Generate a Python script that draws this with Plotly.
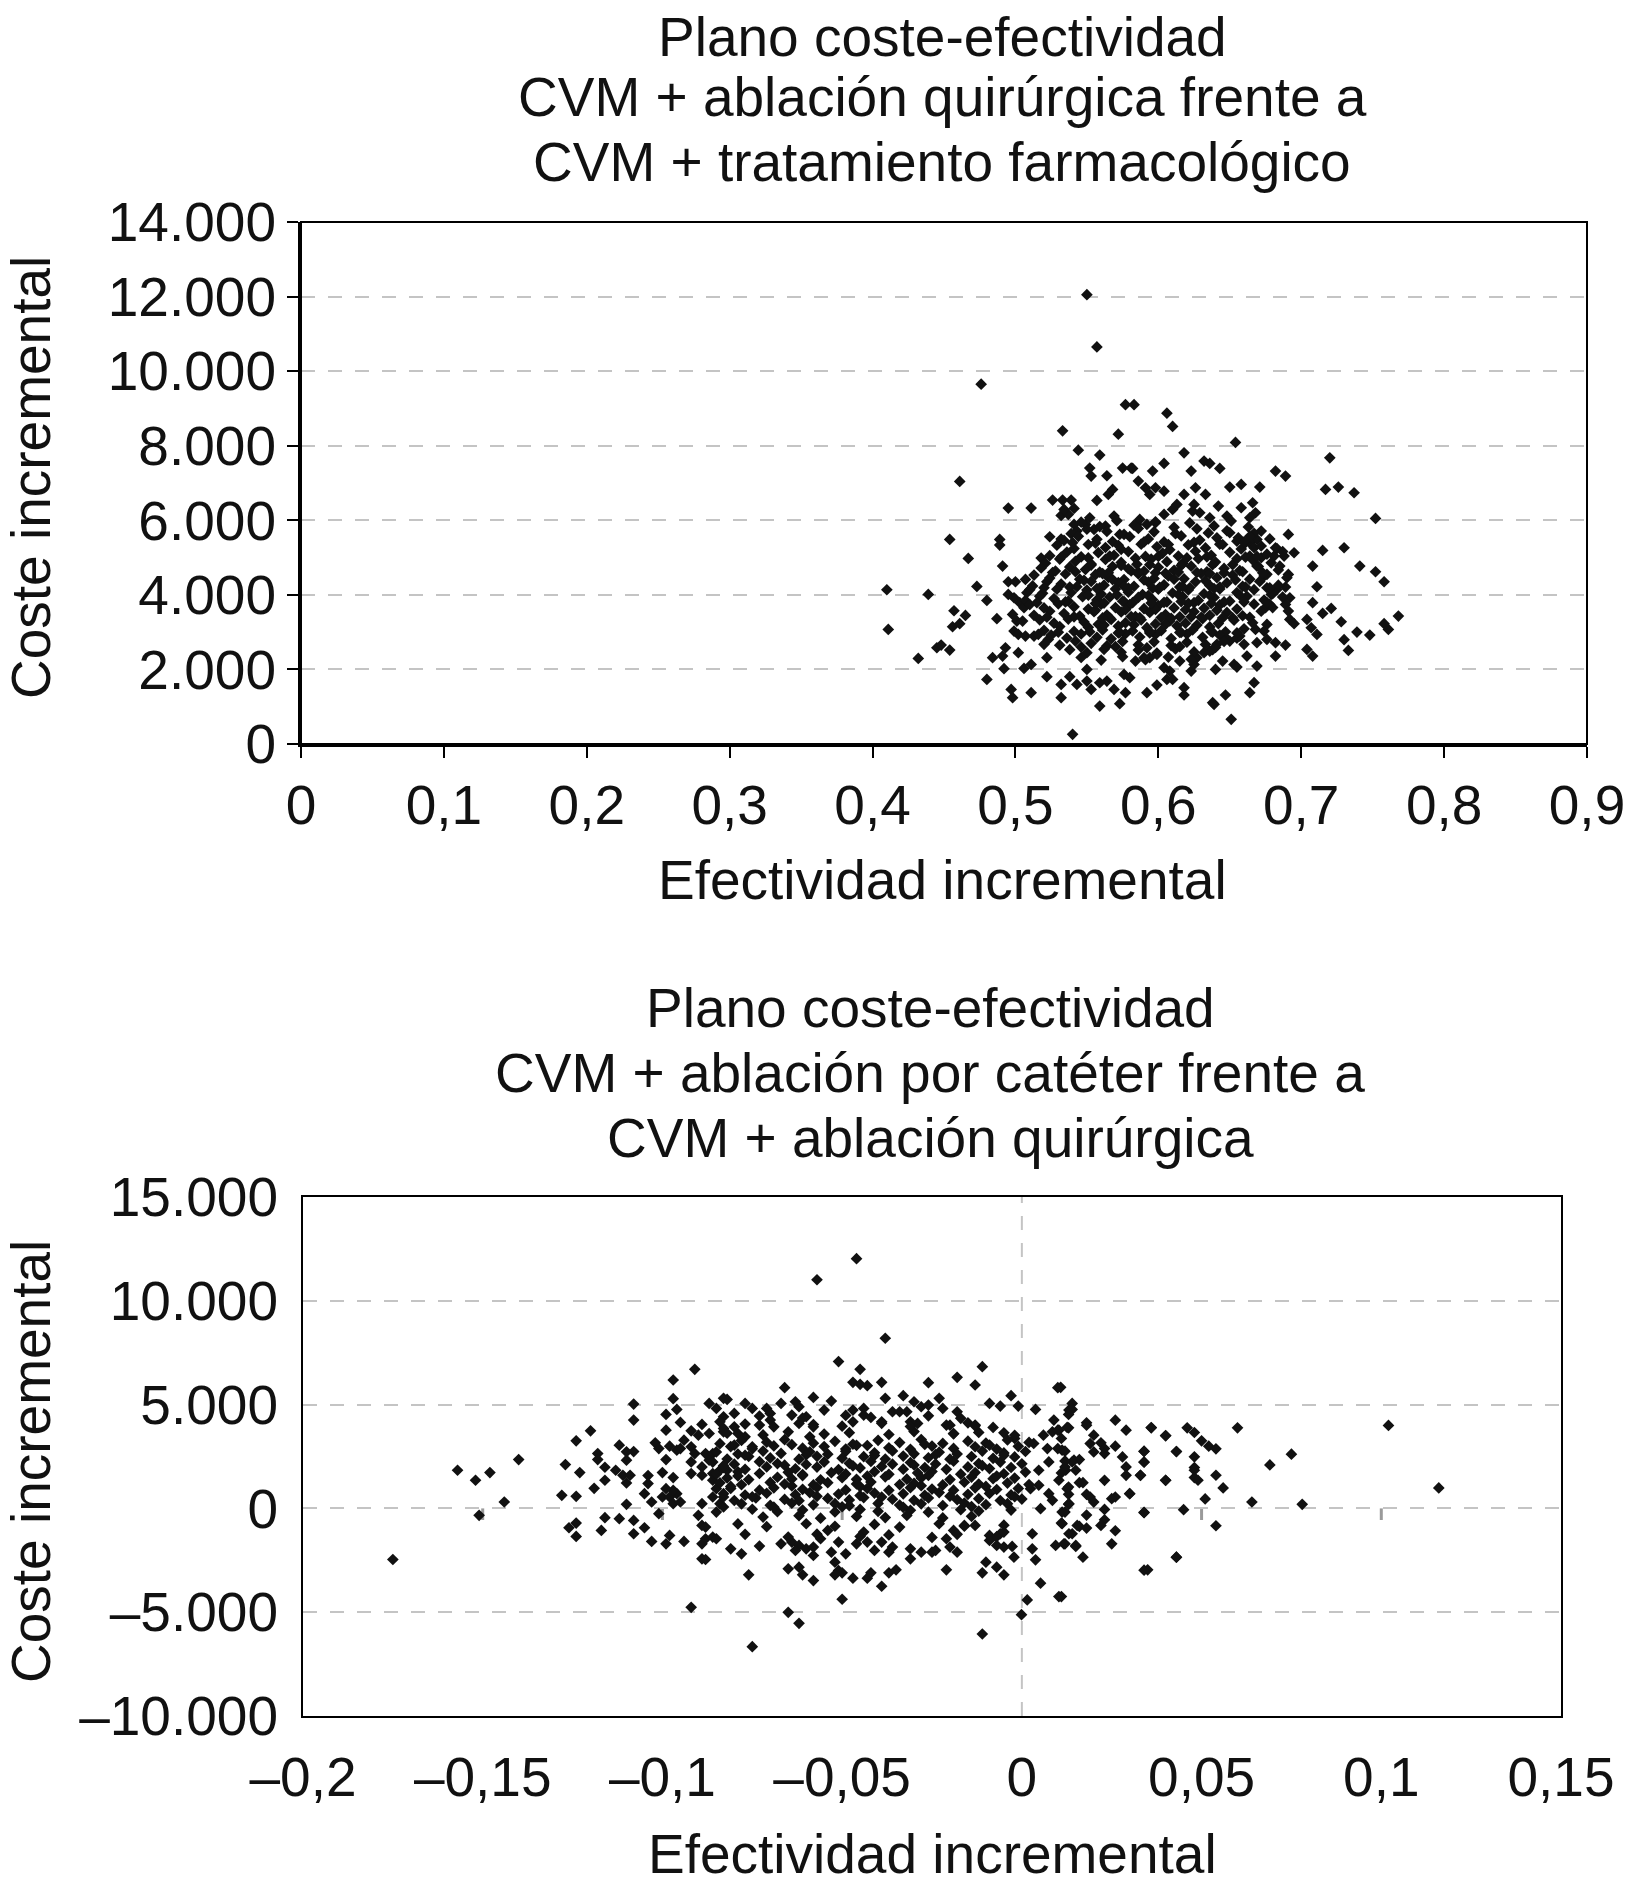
import plotly.graph_objects as go

# ── Panel superior: CVM + ablación quirúrgica frente a CVM + tto. farmacológico ──
# (efectividad incremental, coste incremental)
sup_dispersos = [
    (0.550, 12050), (0.557, 10650), (0.476, 9650), (0.577, 9100), (0.583, 9100),
    (0.533, 8400), (0.572, 8310), (0.544, 7880), (0.559, 7750), (0.552, 7400),
    (0.553, 7185), (0.575, 7400), (0.581, 7400), (0.564, 7194), (0.586, 7051),
    (0.461, 7042), (0.568, 6827), (0.565, 6693), (0.557, 6532), (0.526, 6541),
    (0.533, 6541), (0.539, 6541), (0.495, 6327), (0.511, 6327), (0.532, 6130),
    (0.537, 6157), (0.541, 6318), (0.454, 5487), (0.489, 5487), (0.489, 5335),
    (0.467, 4977), (0.491, 4772), (0.524, 5558), (0.532, 5496), (0.518, 4986),
    (0.495, 4352), (0.500, 4352), (0.507, 4414), (0.410, 4137), (0.439, 4012),
    (0.473, 4226), (0.480, 3851), (0.495, 4012), (0.457, 3574), (0.465, 3449),
    (0.456, 3145), (0.461, 3226), (0.411, 3074), (0.487, 3360), (0.432, 2296),
    (0.445, 2582), (0.448, 2654), (0.454, 2520), (0.480, 1733), (0.484, 2314),
    (0.491, 2359), (0.493, 2582), (0.492, 2019), (0.497, 1465), (0.498, 1242),
    (0.502, 2448), (0.506, 2028), (0.511, 2135), (0.511, 1376), (0.522, 2314),
    (0.522, 1805), (0.532, 1599), (0.532, 1242), (0.538, 1805), (0.543, 1599),
    (0.540, 259), (0.550, 2001), (0.550, 1688), (0.553, 1465), (0.559, 1018),
    (0.559, 1643), (0.564, 1688), (0.569, 1465), (0.573, 1081), (0.577, 1376),
    (0.576, 1867), (0.499, 3923), (0.503, 3789), (0.506, 3655), (0.498, 3476),
    (0.501, 3297), (0.505, 3297), (0.499, 3029), (0.502, 2940), (0.507, 2895),
    (0.513, 2895), (0.516, 2940), (0.520, 2672), (0.523, 2806), (0.508, 4057),
    (0.534, 6291), (0.541, 5889), (0.543, 5710), (0.549, 5889), (0.552, 6068),
    (0.555, 5755), (0.563, 5844), (0.569, 6112), (0.573, 5621), (0.585, 5889),
    (0.606, 8874), (0.610, 8516), (0.654, 8087), (0.618, 7810), (0.632, 7587),
    (0.636, 7524), (0.643, 7390), (0.604, 7524), (0.596, 7319), (0.623, 7319),
    (0.582, 7390), (0.591, 6872), (0.598, 6872), (0.604, 6782), (0.594, 6693),
    (0.626, 6872), (0.633, 6693), (0.650, 6890), (0.658, 6961), (0.671, 6890),
    (0.682, 7319), (0.689, 7185), (0.720, 7676), (0.717, 6827), (0.726, 6890),
    (0.737, 6738), (0.752, 6050), (0.715, 5192), (0.730, 5263), (0.741, 4772),
    (0.752, 4620), (0.758, 4352), (0.708, 4772), (0.711, 4218), (0.708, 3789),
    (0.715, 3503), (0.721, 3637), (0.728, 3279), (0.730, 2797), (0.733, 2511),
    (0.739, 3002), (0.748, 2922), (0.758, 3226), (0.761, 3074), (0.768, 3431),
    (0.704, 3342), (0.707, 3118), (0.711, 2940), (0.704, 2537), (0.708, 2359),
    (0.695, 3226), (0.691, 5621), (0.695, 5129), (0.682, 5263), (0.688, 5040),
    (0.681, 5040), (0.685, 4772), (0.691, 4548), (0.689, 4209), (0.692, 3923),
    (0.689, 3744), (0.691, 3565), (0.692, 3342), (0.682, 2717), (0.689, 2654),
    (0.682, 2359), (0.669, 2091), (0.662, 2359), (0.667, 1644), (0.664, 1376),
    (0.651, 661), (0.647, 1314), (0.639, 1063), (0.638, 1109), (0.645, 2225),
    (0.640, 2001), (0.653, 2135), (0.655, 2064), (0.618, 1510), (0.618, 1314),
    (0.610, 1733), (0.599, 1581), (0.592, 1376), (0.606, 1733), (0.623, 1957),
    (0.625, 2135), (0.580, 1778), (0.658, 6336), (0.666, 6470), (0.668, 6202),
    (0.664, 6068), (0.672, 5710), (0.669, 5487), (0.664, 5398), (0.642, 6380),
    (0.648, 6112), (0.636, 6068), (0.629, 6202), (0.624, 6246), (0.625, 6425),
    (0.618, 6693), (0.613, 6425), (0.610, 6291), (0.604, 6157), (0.598, 5934),
    (0.592, 5889), (0.587, 6023), (0.650, 5666), (0.656, 5532), (0.661, 5398),
    (0.667, 5263), (0.672, 4995), (0.669, 4772), (0.664, 5040), (0.674, 4503),
    (0.676, 4191), (0.679, 4012), (0.683, 4146), (0.678, 3744), (0.675, 3655),
    (0.676, 3208), (0.674, 3029), (0.676, 2806), (0.669, 2717), (0.668, 3074),
    (0.660, 2672), (0.657, 2895), (0.650, 2761), (0.646, 2895), (0.641, 2672),
    (0.636, 2493), (0.632, 2448), (0.627, 2314), (0.615, 2225), (0.608, 1957),
    (0.604, 2046), (0.599, 2403), (0.594, 2314), (0.590, 2314), (0.584, 2225),
]

sup_nucleo = [
    (0.546, 5950), (0.559, 5830), (0.571, 5990), (0.583, 5870), (0.598, 5960),
    (0.611, 5810), (0.622, 5930), (0.639, 5850), (0.651, 5980), (0.663, 5820),
    (0.539, 5640), (0.550, 5760), (0.564, 5700), (0.576, 5620), (0.586, 5780),
    (0.597, 5690), (0.612, 5640), (0.627, 5770), (0.635, 5660), (0.648, 5720),
    (0.667, 5650),
    (0.534, 5460), (0.544, 5570), (0.557, 5490), (0.568, 5430), (0.580, 5560),
    (0.593, 5500), (0.604, 5420), (0.616, 5580), (0.629, 5470), (0.641, 5530),
    (0.655, 5440), (0.664, 5570), (0.678, 5500),
    (0.529, 5330), (0.541, 5240), (0.551, 5350), (0.563, 5270), (0.574, 5220),
    (0.588, 5360), (0.599, 5290), (0.608, 5210), (0.621, 5340), (0.633, 5260),
    (0.645, 5350), (0.658, 5230), (0.672, 5310), (0.683, 5240),
    (0.524, 5050), (0.536, 5150), (0.546, 5020), (0.558, 5130), (0.569, 5060),
    (0.579, 5160), (0.591, 5030), (0.603, 5120), (0.614, 5040), (0.626, 5170),
    (0.637, 5060), (0.650, 5140), (0.661, 5010), (0.676, 5090), (0.687, 5160),
    (0.521, 4850), (0.531, 4960), (0.542, 4900), (0.553, 4830), (0.563, 4950),
    (0.574, 4870), (0.585, 4820), (0.595, 4960), (0.606, 4890), (0.617, 4840),
    (0.628, 4970), (0.640, 4880), (0.652, 4810), (0.666, 4940), (0.679, 4860),
    (0.518, 4720), (0.528, 4640), (0.538, 4750), (0.549, 4680), (0.559, 4610),
    (0.568, 4760), (0.579, 4700), (0.590, 4630), (0.600, 4740), (0.611, 4660),
    (0.623, 4770), (0.634, 4620), (0.646, 4710), (0.657, 4650), (0.670, 4760),
    (0.684, 4670),
    (0.513, 4530), (0.524, 4450), (0.535, 4560), (0.545, 4420), (0.556, 4540),
    (0.565, 4470), (0.576, 4410), (0.586, 4560), (0.597, 4440), (0.607, 4510),
    (0.618, 4430), (0.630, 4570), (0.641, 4460), (0.652, 4530), (0.664, 4420),
    (0.676, 4550), (0.690, 4460),
    (0.512, 4240), (0.522, 4350), (0.532, 4290), (0.543, 4220), (0.553, 4360),
    (0.562, 4260), (0.572, 4330), (0.583, 4230), (0.593, 4340), (0.604, 4270),
    (0.615, 4210), (0.626, 4350), (0.636, 4250), (0.648, 4320), (0.659, 4230),
    (0.671, 4360), (0.684, 4260),
    (0.510, 4140), (0.519, 4040), (0.529, 4150), (0.539, 4060), (0.550, 4130),
    (0.560, 4020), (0.570, 4160), (0.579, 4070), (0.589, 4010), (0.600, 4150),
    (0.610, 4050), (0.621, 4130), (0.632, 4030), (0.643, 4160), (0.655, 4060),
    (0.667, 4140), (0.680, 4030),
    (0.507, 3850), (0.517, 3960), (0.527, 3900), (0.537, 3830), (0.547, 3950),
    (0.557, 3860), (0.566, 3940), (0.576, 3820), (0.586, 3930), (0.596, 3870),
    (0.606, 3810), (0.617, 3950), (0.628, 3850), (0.639, 3930), (0.650, 3830),
    (0.662, 3960), (0.674, 3860), (0.687, 3940),
    (0.510, 3740), (0.520, 3650), (0.530, 3760), (0.541, 3680), (0.551, 3620),
    (0.560, 3750), (0.570, 3660), (0.580, 3740), (0.590, 3630), (0.600, 3710),
    (0.611, 3650), (0.621, 3770), (0.632, 3640), (0.643, 3730), (0.655, 3620),
    (0.667, 3750), (0.680, 3660),
    (0.513, 3450), (0.524, 3560), (0.534, 3500), (0.545, 3430), (0.555, 3550),
    (0.564, 3460), (0.574, 3540), (0.584, 3420), (0.594, 3530), (0.605, 3470),
    (0.615, 3410), (0.625, 3550), (0.636, 3450), (0.648, 3530), (0.659, 3440),
    (0.672, 3560),
    (0.517, 3330), (0.527, 3240), (0.537, 3350), (0.548, 3270), (0.558, 3210),
    (0.567, 3340), (0.577, 3250), (0.588, 3330), (0.598, 3220), (0.608, 3300),
    (0.619, 3240), (0.631, 3360), (0.642, 3230), (0.653, 3320), (0.666, 3250),
    (0.520, 3050), (0.531, 3150), (0.541, 3020), (0.551, 3130), (0.561, 3060),
    (0.572, 3160), (0.582, 3030), (0.592, 3120), (0.602, 3040), (0.613, 3170),
    (0.624, 3060), (0.636, 3140), (0.647, 3010), (0.660, 3090),
    (0.525, 2920), (0.536, 2840), (0.546, 2950), (0.557, 2860), (0.567, 2820),
    (0.577, 2960), (0.587, 2870), (0.598, 2940), (0.609, 2830), (0.620, 2950),
    (0.631, 2860), (0.643, 2920), (0.655, 2840),
    (0.531, 2650), (0.542, 2760), (0.553, 2700), (0.564, 2630), (0.575, 2750),
    (0.586, 2660), (0.597, 2740), (0.609, 2640), (0.620, 2730), (0.633, 2670),
    (0.646, 2750),
    (0.538, 2530), (0.550, 2450), (0.562, 2540), (0.574, 2460), (0.586, 2520),
    (0.599, 2440), (0.612, 2550), (0.625, 2470), (0.638, 2530),
    (0.546, 2320), (0.560, 2250), (0.575, 2340), (0.591, 2260), (0.607, 2330),
    (0.623, 2270),
]

# zona más densa del panel superior
sup_centro = [
    (0.553, 4800), (0.565, 4590), (0.574, 4790), (0.586, 4610), (0.594, 4810),
    (0.605, 4580), (0.616, 4790), (0.627, 4600), (0.638, 4810), (0.646, 4590),
    (0.548, 4390), (0.559, 4190), (0.568, 4410), (0.579, 4180), (0.590, 4400),
    (0.601, 4200), (0.611, 4420), (0.622, 4190), (0.633, 4380), (0.643, 4210),
    (0.654, 4400), (0.551, 3990), (0.562, 3780), (0.571, 4000), (0.582, 3790),
    (0.593, 3980), (0.604, 3800), (0.614, 4010), (0.625, 3790), (0.636, 3990),
    (0.646, 3810), (0.657, 3990), (0.556, 3590), (0.566, 3380), (0.577, 3600),
    (0.587, 3390), (0.598, 3610), (0.609, 3370), (0.619, 3600), (0.630, 3400),
    (0.641, 3590), (0.652, 3380), (0.562, 3190), (0.573, 2990), (0.583, 3200),
    (0.594, 2980), (0.605, 3210), (0.616, 2990), (0.627, 3190), (0.638, 3000),
    (0.540, 5400), (0.556, 5390), (0.572, 5330), (0.590, 5420), (0.607, 5350),
    (0.625, 5410), (0.643, 5360), (0.660, 5420), (0.532, 5010), (0.551, 4990),
    (0.566, 5040), (0.584, 4980), (0.600, 5030), (0.620, 4990), (0.634, 5020),
    (0.655, 4970), (0.669, 5030), (0.526, 4600), (0.542, 4620), (0.561, 4570),
    (0.581, 4640), (0.598, 4590), (0.614, 4610), (0.636, 4570), (0.659, 4620),
    (0.673, 4590), (0.520, 4190), (0.538, 4210), (0.557, 4170), (0.576, 4230),
    (0.596, 4180), (0.617, 4220), (0.639, 4170), (0.661, 4210), (0.678, 4190),
    (0.515, 3790), (0.535, 3810), (0.556, 3770), (0.575, 3830), (0.595, 3780),
    (0.616, 3820), (0.637, 3770), (0.660, 3810), (0.676, 3790), (0.522, 3400),
    (0.541, 3410), (0.561, 3380), (0.581, 3420), (0.602, 3390), (0.623, 3410),
    (0.645, 3380), (0.664, 3400), (0.530, 3000), (0.552, 3010), (0.572, 2980),
    (0.594, 3020), (0.615, 2990), (0.637, 3010), (0.655, 2980), (0.546, 2600),
    (0.570, 2610), (0.592, 2580), (0.615, 2610), (0.640, 2590),
]

# ── Panel inferior: CVM + ablación por catéter frente a CVM + ablación quirúrgica ──
inf_izquierda = [
    (-0.175, -2461), (-0.157, 1838), (-0.152, 1355), (-0.148, 1725), (-0.151, -335),
    (-0.144, 309), (-0.140, 2353), (-0.127, 2112), (-0.128, 631), (-0.124, 582),
    (-0.123, 1725), (-0.124, 3255), (-0.120, 3738), (-0.126, -931), (-0.124, -706),
    (-0.124, -1350), (-0.118, 2643), (-0.118, 2353), (-0.116, 1983), (-0.116, 1355),
    (-0.119, 969), (-0.113, 1838), (-0.111, 1596), (-0.110, 1226), (-0.109, 1596),
    (-0.110, 2321), (-0.110, 2723), (-0.112, 3046), (-0.108, 2739), (-0.108, 4253),
    (-0.108, 5026), (-0.117, -1060), (-0.116, -448), (-0.112, -496), (-0.110, 196),
    (-0.108, -577), (-0.108, -1221), (-0.105, -931), (-0.103, -1591), (-0.099, -1704),
    (-0.094, -1591), (-0.098, -1302), (-0.101, -255), (-0.103, 309), (-0.105, 711),
    (-0.104, 1194), (-0.104, 1581), (-0.100, 1725), (-0.097, 1484), (-0.099, 2353),
    (-0.102, 3158), (-0.101, 2884), (-0.099, 3770), (-0.099, 4527), (-0.097, 5283),
    (-0.097, 6185), (-0.096, 4768), (-0.095, 4140), (-0.092, 3738), (-0.094, 3287),
    (-0.092, 2965), (-0.095, 2884), (-0.096, 2804), (-0.098, 2997), (-0.091, 6700),
    (-0.092, -4763), (-0.089, -2428), (-0.088, -2461), (-0.089, -1704), (-0.088, -1463),
    (-0.086, -1382), (-0.085, -1463), (-0.090, -335), (-0.089, -818), (-0.088, -899),
    (-0.089, 228), (-0.100, 550), (-0.098, 550), (-0.097, 228), (-0.095, 309),
    (-0.096, 711), (-0.097, 872), (-0.099, 952), (-0.086, 1355), (-0.086, 1677),
    (-0.085, 952), (-0.086, 550), (-0.084, 228), (-0.085, -175), (-0.083, 68),
    (-0.083, 550), (-0.083, 2000), (-0.089, 1999), (-0.087, 2321), (-0.088, 2643),
    (-0.086, 2643), (-0.084, 1838), (-0.082, 1838), (-0.089, 4044), (-0.087, 3609),
    (-0.087, 5058), (-0.085, 4817), (-0.083, 3690), (-0.083, 4414), (-0.082, 5251),
    (-0.090, 3529), (-0.091, 2643), (-0.092, 2240), (-0.092, 1677), (-0.089, 1597),
]

inf_centro = [
    (-0.046, 12029), (-0.057, 11015), (-0.038, 8197), (-0.051, 7071), (-0.045, 6700),
    (-0.011, 6829), (-0.018, 6314), (-0.013, 5944), (-0.026, 6056), (-0.039, 6072),
    (-0.047, 6072), (-0.045, 5976), (-0.043, 5911), (-0.066, 5815), (0.010, 5815),
    (-0.003, 5428), (-0.001, 4929), (-0.006, 4929), (-0.009, 5058),
    (-0.0001, -5117), (-0.011, -6051), (-0.075, -6663), (-0.065, -5004), (-0.062, -5536),
    (-0.050, -4377), (-0.076, -3201), (-0.081, -1946), (-0.078, -2187), (-0.073, -1817),
    (-0.065, -2911), (-0.062, -2831), (-0.061, -3201), (-0.058, -3475), (-0.052, -2589),
    (-0.051, -2992), (-0.050, -3105), (-0.047, -3362), (-0.043, -3362), (-0.042, -3105),
    (-0.039, -3749), (-0.037, -3105), (-0.035, -2960), (-0.052, -3201), (-0.021, -2960),
    (-0.011, -3105), (-0.010, -2589), (-0.007, -2831), (-0.005, -3201),
    (-0.067, -1704), (-0.064, -1624), (-0.062, -1785), (-0.060, -1946), (-0.063, -2026),
    (-0.058, -1865), (-0.056, -1463), (-0.054, -1060), (-0.051, -1624), (-0.058, -2268),
    (-0.053, -2107), (-0.049, -2187), (-0.046, -1704), (-0.044, -1141), (-0.043, -1624),
    (-0.041, -2026), (-0.039, -1624), (-0.036, -1865), (-0.037, -2107), (-0.031, -1946),
    (-0.031, -2429), (-0.028, -2107), (-0.025, -2107), (-0.024, -2026), (-0.020, -1865),
    (-0.018, -2107), (-0.021, -1463), (-0.019, -1060), (-0.016, -819), (-0.013, -819),
    (-0.009, -1302), (-0.006, -1221), (-0.005, -1141), (-0.009, -1543), (-0.007, -1785),
    (-0.005, -1865),
    (-0.083, 5300), (-0.077, 5058), (-0.075, 4817), (-0.080, 4575), (-0.084, 4172),
    (-0.083, 3851), (-0.080, 3931), (-0.079, 3609), (-0.077, 3448), (-0.075, 2965),
    (-0.071, 4817), (-0.070, 4575), (-0.070, 4253), (-0.073, 4012), (-0.067, 5058),
    (-0.063, 5138), (-0.062, 4897), (-0.064, 4495), (-0.062, 4092), (-0.060, 4414),
    (-0.058, 5348), (-0.053, 5171), (-0.055, 4736), (-0.058, 3931), (-0.059, 3448),
    (-0.047, 4736), (-0.044, 4817), (-0.044, 4495), (-0.047, 4172), (-0.039, 4172),
    (-0.038, 5300), (-0.036, 4656), (-0.034, 4656), (-0.032, 4656), (-0.033, 5428),
    (-0.030, 5138), (-0.028, 4897), (-0.026, 4977), (-0.029, 4092), (-0.031, 4172),
    (-0.023, 5300), (-0.022, 4817), (-0.018, 4656), (-0.015, 4124), (-0.013, 4012),
    (-0.008, 3899), (-0.005, 3641), (-0.002, 3368), (-0.021, 4012), (-0.019, 3609),
]

inf_derecha = [
    (0.0038, 4768), (0.006, 3529), (0.0085, 3690), (0.0103, 3770), (0.0131, 4736),
    (0.0140, 5058), (0.0089, 4253), (0.0126, 3899), (0.0112, 2804), (0.0071, 2884),
    (0.0033, 3126), (0.0145, 2321), (0.0075, 2240), (0.0122, 1838), (0.0047, 1838),
    (0.0103, 1355), (0.0126, 952), (0.0047, 1114), (0.0024, 952), (0.0075, 711),
    (0.0131, 228), (0.0085, 389), (0.0112, -175), (0.0052, -14), (0.0154, -819),
    (0.0112, -738), (0.0131, -1221), (0.0029, -1221), (0.0094, -1785), (0.0117, -1704),
    (0.0150, -1785), (0.0029, -1946), (0.0038, -2477), (0.0052, -3604), (0.0015, -4409),
    (0.0103, -4248), (-0.0027, -1833), (-0.0022, -2348),
    (0.0108, 5830), (0.014, 4767), (0.013, 4526), (0.018, 4123), (0.018, 4010),
    (0.013, 3882), (0.010, 3769), (0.011, 3366), (0.010, 2884), (0.012, 2755),
    (0.020, 3527), (0.019, 3125), (0.022, 3157), (0.023, 2884), (0.023, 2642),
    (0.026, 2996), (0.020, 2722), (0.026, 4252), (0.029, 3769), (0.016, 2352),
    (0.014, 2240), (0.012, 2288), (0.015, 1837), (0.012, 1998), (0.011, 1708),
    (0.028, 2481), (0.029, 2000), (0.029, 1595), (0.033, 1595), (0.034, 2240),
    (0.034, 2755), (0.023, 1354), (0.016, 1241), (0.017, 1241), (0.013, 1032),
    (0.013, 678), (0.018, 678), (0.019, 549), (0.020, 307), (0.026, 549),
    (0.025, 468), (0.030, 710), (0.013, 195), (0.012, -176), (0.018, -320),
    (0.023, -47), (0.023, -546), (0.022, -820), (0.011, -707), (0.014, -1222),
    (0.012, -1705), (0.015, -1834), (0.016, -868), (0.018, -948), (0.026, -1077),
    (0.025, -1705), (0.017, -2349), (0.034, -208), (0.035, -2961), (0.043, -2349),
    (0.011, -4249), (0.036, 3898), (0.040, 3511), (0.043, 2739), (0.040, 1354),
    (0.036, 3883), (0.040, 3496), (0.046, 3883), (0.048, 3657), (0.050, 3255),
    (0.052, 2997), (0.054, 2868), (0.060, 3883), (0.102, 3995), (0.034, 2740),
    (0.034, 2224), (0.033, 1597), (0.043, 2740), (0.048, 2482), (0.048, 1967),
    (0.048, 1838), (0.048, 1484), (0.049, 1355), (0.054, 1597), (0.056, 985),
    (0.040, 1355), (0.069, 2095), (0.075, 2611), (0.064, 309), (0.078, 196),
    (0.051, 454), (0.045, -62), (0.034, -191), (0.054, -835), (0.043, -2348),
    (0.034, -2976), (0.116, 985), (0.030, 711),
]

inf_nucleo = [
    (-0.084, 3120), (-0.078, 3270), (-0.071, 3190), (-0.066, 3310), (-0.058, 3140),
    (-0.052, 3230), (-0.047, 3090), (-0.040, 3280), (-0.034, 3170), (-0.028, 3320),
    (-0.022, 3130), (-0.015, 3240), (-0.010, 3150), (-0.004, 3300), (0.002, 3180),
    (-0.081, 2980), (-0.075, 2870), (-0.069, 3010), (-0.061, 2900), (-0.055, 2980),
    (-0.049, 2860), (-0.043, 3030), (-0.037, 2920), (-0.031, 2850), (-0.025, 3000),
    (-0.019, 2890), (-0.013, 2970), (-0.007, 2860), (-0.001, 2990),
    (-0.085, 2720), (-0.079, 2620), (-0.072, 2760), (-0.067, 2650), (-0.059, 2730),
    (-0.054, 2610), (-0.049, 2750), (-0.041, 2680), (-0.036, 2770), (-0.030, 2630),
    (-0.023, 2710), (-0.018, 2620), (-0.011, 2760), (-0.005, 2670), (0.001, 2740),
    (-0.082, 2380), (-0.076, 2500), (-0.070, 2430), (-0.062, 2370), (-0.057, 2510),
    (-0.050, 2420), (-0.044, 2490), (-0.038, 2380), (-0.033, 2520), (-0.026, 2440),
    (-0.020, 2370), (-0.014, 2500), (-0.008, 2410), (-0.002, 2480),
    (-0.086, 2230), (-0.080, 2130), (-0.073, 2250), (-0.068, 2160), (-0.060, 2120),
    (-0.055, 2240), (-0.048, 2170), (-0.042, 2260), (-0.036, 2130), (-0.031, 2210),
    (-0.024, 2140), (-0.019, 2270), (-0.012, 2160), (-0.006, 2230), (0.000, 2150),
    (-0.083, 1960), (-0.077, 1880), (-0.071, 2000), (-0.063, 1910), (-0.057, 1990),
    (-0.051, 1870), (-0.045, 1950), (-0.039, 2020), (-0.033, 1890), (-0.027, 1970),
    (-0.021, 1880), (-0.015, 2000), (-0.009, 1920), (-0.003, 1970),
    (-0.085, 1650), (-0.079, 1760), (-0.073, 1680), (-0.065, 1740), (-0.061, 1630),
    (-0.053, 1720), (-0.049, 1660), (-0.041, 1770), (-0.037, 1640), (-0.029, 1710),
    (-0.025, 1780), (-0.017, 1650), (-0.013, 1730), (-0.005, 1670), (0.001, 1750),
    (-0.082, 1470), (-0.076, 1390), (-0.068, 1500), (-0.064, 1420), (-0.056, 1380),
    (-0.050, 1480), (-0.046, 1400), (-0.038, 1520), (-0.032, 1410), (-0.028, 1470),
    (-0.020, 1390), (-0.014, 1510), (-0.008, 1430), (-0.002, 1460),
    (-0.084, 1230), (-0.078, 1140), (-0.070, 1250), (-0.066, 1170), (-0.058, 1130),
    (-0.054, 1240), (-0.046, 1180), (-0.042, 1270), (-0.034, 1150), (-0.030, 1210),
    (-0.022, 1130), (-0.016, 1260), (-0.012, 1170), (-0.004, 1220), (0.002, 1150),
    (-0.081, 960), (-0.073, 880), (-0.069, 990), (-0.061, 920), (-0.057, 1010),
    (-0.049, 890), (-0.043, 960), (-0.037, 870), (-0.031, 1000), (-0.025, 930),
    (-0.019, 880), (-0.013, 990), (-0.007, 910), (-0.001, 960),
    (-0.083, 710), (-0.077, 640), (-0.071, 730), (-0.063, 660), (-0.059, 760),
    (-0.051, 690), (-0.045, 620), (-0.041, 740), (-0.033, 700), (-0.027, 630),
    (-0.023, 760), (-0.015, 680), (-0.009, 720), (-0.003, 650),
    (-0.080, 380), (-0.074, 500), (-0.066, 430), (-0.062, 370), (-0.054, 480),
    (-0.048, 410), (-0.044, 520), (-0.036, 440), (-0.030, 390), (-0.026, 500),
    (-0.018, 420), (-0.012, 470), (-0.006, 380), (0.000, 450),
    (-0.078, 220), (-0.070, 150), (-0.064, 250), (-0.058, 170), (-0.052, 230),
    (-0.048, 130), (-0.040, 240), (-0.034, 160), (-0.028, 220), (-0.022, 140),
    (-0.016, 260), (-0.010, 180), (-0.004, 230),
    (-0.075, -40), (-0.068, -160), (-0.061, -80), (-0.052, -170), (-0.045, -50),
    (-0.040, -140), (-0.031, -90), (-0.026, -180), (-0.017, -60), (-0.012, -130),
    (-0.003, -80),
    (-0.072, -420), (-0.062, -350), (-0.056, -470), (-0.046, -390), (-0.038, -440),
    (-0.032, -340), (-0.022, -460), (-0.014, -380),
    (-0.082, 3620), (-0.072, 3540), (-0.065, 3690), (-0.055, 3580), (-0.048, 3650),
    (-0.037, 3560), (-0.030, 3700), (-0.019, 3590), (-0.012, 3660), (-0.002, 3520),
    (-0.077, 4060), (-0.069, 3930), (-0.058, 4040), (-0.050, 3960), (-0.039, 4100),
    (-0.031, 3940), (-0.020, 4010), (-0.013, 3980),
    (-0.073, 4450), (-0.061, 4350), (-0.049, 4480), (-0.042, 4380), (-0.026, 4460),
    (-0.017, 4340),
    (-0.079, -750), (-0.071, -880), (-0.060, -740), (-0.052, -860), (-0.041, -770),
    (-0.034, -900), (-0.023, -740), (-0.016, -860), (-0.005, -810),
    (-0.077, -1250), (-0.065, -1380), (-0.057, -1240), (-0.045, -1350), (-0.037, -1280),
    (-0.025, -1400), (-0.018, -1250), (-0.007, -1360),
    (-0.080, 3050), (-0.064, 3070), (-0.046, 3040), (-0.027, 3080), (-0.009, 3050),
    (-0.077, 2560), (-0.060, 2580), (-0.041, 2550), (-0.024, 2590), (-0.005, 2560),
    (-0.083, 2060), (-0.066, 2080), (-0.047, 2050), (-0.030, 2090), (-0.011, 2060),
    (-0.079, 1560), (-0.061, 1580), (-0.043, 1550), (-0.026, 1590), (-0.007, 1560),
    (-0.081, 1060), (-0.064, 1080), (-0.045, 1050), (-0.028, 1090), (-0.010, 1060),
    (-0.075, 560), (-0.057, 580), (-0.039, 550), (-0.020, 590), (-0.002, 560),
    (-0.069, 60), (-0.050, 80), (-0.033, 50), (-0.014, 90),
]

# ── Textos y ejes ─────────────────────────────────────────────────────────────
titulo_sup = ["Plano coste-efectividad",
              "CVM + ablación quirúrgica frente a",
              "CVM + tratamiento farmacológico"]
titulo_inf = ["Plano coste-efectividad",
              "CVM + ablación por catéter frente a",
              "CVM + ablación quirúrgica"]
eje_x_titulo = "Efectividad incremental"
eje_y_titulo = "Coste incremental"

x_sup_vals = [0, 0.1, 0.2, 0.3, 0.4, 0.5, 0.6, 0.7, 0.8, 0.9]
x_sup_text = ["0", "0,1", "0,2", "0,3", "0,4", "0,5", "0,6", "0,7", "0,8", "0,9"]
y_sup_vals = [0, 2000, 4000, 6000, 8000, 10000, 12000, 14000]
y_sup_text = ["0", "2.000", "4.000", "6.000", "8.000", "10.000", "12.000", "14.000"]

x_inf_vals = [-0.2, -0.15, -0.1, -0.05, 0, 0.05, 0.1, 0.15]
x_inf_text = ["\u20130,2", "\u20130,15", "\u20130,1", "\u20130,05", "0", "0,05", "0,1", "0,15"]
y_inf_vals = [-10000, -5000, 0, 5000, 10000, 15000]
y_inf_text = ["\u201310.000", "\u20135.000", "0", "5.000", "10.000", "15.000"]

# ── Estilo ────────────────────────────────────────────────────────────────────
W, H = 1627, 1891
FONT = "Liberation Sans, Arial, sans-serif"
FS = 55
INK = "#111111"
GRID = "#c4c4c4"
DASH = "14px,13px"


def py(y_px):
    """pixel from top -> paper y"""
    return 1 - y_px / H


def px(x_px):
    return x_px / W


marker = dict(symbol="diamond", size=9, color=INK, line=dict(width=0))

fig = go.Figure()

sx, sy = zip(*(sup_dispersos + sup_nucleo + sup_centro))
fig.add_trace(go.Scatter(x=sx, y=sy, mode="markers", marker=marker,
                         xaxis="x", yaxis="y", showlegend=False))

ix, iy = zip(*(inf_izquierda + inf_centro + inf_derecha + inf_nucleo))
fig.add_trace(go.Scatter(x=ix, y=iy, mode="markers", marker=marker,
                         xaxis="x2", yaxis="y2", showlegend=False))

tickfont = dict(family=FONT, size=FS, color=INK)

fig.update_layout(
    width=W, height=H, autosize=False,
    margin=dict(l=0, r=0, t=0, b=0, pad=0),
    paper_bgcolor="white", plot_bgcolor="white",
    font=dict(family=FONT, size=FS, color=INK),
    xaxis=dict(domain=[px(301), px(1587)], range=[0, 0.9], anchor="y",
               automargin=False,
               tickvals=x_sup_vals, ticktext=x_sup_text, tickfont=tickfont,
               ticks="outside", ticklen=11, tickwidth=2, tickcolor="black",
               showline=True, linecolor="black", linewidth=3,
               showgrid=False, zeroline=False),
    yaxis=dict(domain=[py(744), py(222)], range=[0, 14000], anchor="x",
               automargin=False,
               tickvals=y_sup_vals, ticktext=y_sup_text, tickfont=tickfont,
               ticks="outside", ticklen=11, tickwidth=2, tickcolor="black",
               showline=True, linecolor="black", linewidth=3,
               showgrid=True, gridcolor=GRID, gridwidth=2, griddash=DASH,
               zeroline=False),
    xaxis2=dict(domain=[px(303), px(1561)], range=[-0.2, 0.15], anchor="y2",
                automargin=False,
                tickvals=x_inf_vals, ticktext=x_inf_text, tickfont=tickfont,
                ticks="", ticklabelstandoff=12,
                showline=True, mirror=True, linecolor="black", linewidth=2,
                showgrid=False, zeroline=False),
    yaxis2=dict(domain=[py(1716), py(1197)], range=[-10000, 15000], anchor="x2",
                automargin=False,
                tickvals=y_inf_vals, ticktext=y_inf_text, tickfont=tickfont,
                ticks="", ticklabelstandoff=12,
                showline=True, mirror=True, linecolor="black", linewidth=2,
                showgrid=True, gridcolor=GRID, gridwidth=2, griddash=DASH,
                zeroline=False),
)

# marco del panel superior
fig.add_shape(type="rect", xref="x domain", yref="y domain", x0=0, x1=1, y0=0, y1=1,
              line=dict(color="black", width=2), layer="above")
# línea discontinua vertical en efectividad 0 (panel inferior)
fig.add_shape(type="line", xref="x2", yref="y2 domain", x0=0, x1=0, y0=0, y1=1,
              line=dict(color=GRID, width=2, dash=DASH), layer="below")
# pequeñas marcas grises del eje horizontal que cruza en coste 0
for v in x_inf_vals[1:-1]:
    if v != 0:
        fig.add_shape(type="line", xref="x2", yref="y2", x0=v, x1=v, y0=0, y1=-560,
                      line=dict(color="#9a9a9a", width=3), layer="below")

annot = dict(showarrow=False, xref="paper", yref="paper", xanchor="center",
             yanchor="middle", borderpad=0, font=dict(family=FONT, size=FS, color=INK))

for y_px, line in zip([37, 97, 162], titulo_sup):
    fig.add_annotation(text=line, x=px(942), y=py(y_px), **annot)
for y_px, line in zip([1008, 1073, 1138], titulo_inf):
    fig.add_annotation(text=line, x=px(930), y=py(y_px), **annot)

fig.add_annotation(text=eje_x_titulo, x=px(942), y=py(880), **annot)
fig.add_annotation(text=eje_x_titulo, x=px(932), y=py(1854), **annot)
fig.add_annotation(text=eje_y_titulo, x=px(31), y=py(478), textangle=-90, **annot)
fig.add_annotation(text=eje_y_titulo, x=px(31), y=py(1462), textangle=-90, **annot)

# página sin márgenes, para que la figura ocupe exactamente la ventana
fig.write_html("out.html",
               config={"displayModeBar": False},
               post_script="document.body.style.margin='0';"
                           "document.body.style.overflow='hidden';")
